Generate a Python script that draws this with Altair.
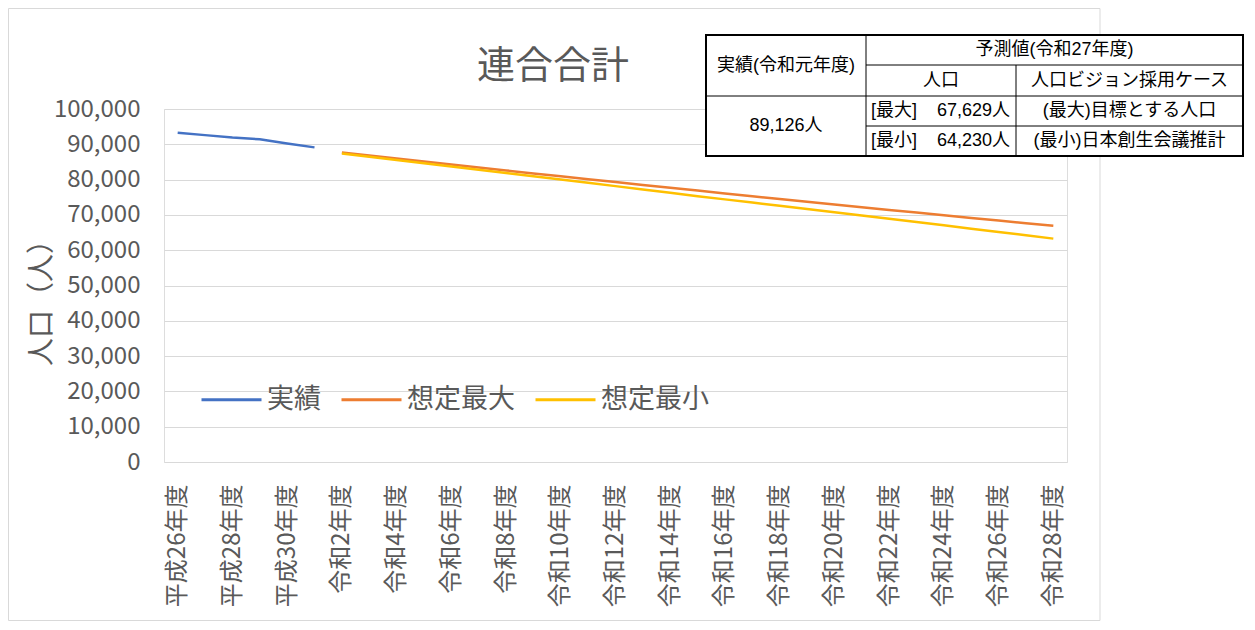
import altair as alt
import pandas as pd

# ---- data ----
categories = [
    "平成26年度", "平成27年度", "平成28年度", "平成29年度", "平成30年度", "令和元年度",
    "令和2年度", "令和3年度", "令和4年度", "令和5年度", "令和6年度", "令和7年度",
    "令和8年度", "令和9年度", "令和10年度", "令和11年度", "令和12年度", "令和13年度",
    "令和14年度", "令和15年度", "令和16年度", "令和17年度", "令和18年度", "令和19年度",
    "令和20年度", "令和21年度", "令和22年度", "令和23年度", "令和24年度", "令和25年度",
    "令和26年度", "令和27年度", "令和28年度",
]
actual_years = categories[0:6]
actual_values = [93300, 92600, 91900, 91400, 90200, 89126]

forecast_years = categories[6:]
max_values = [87700, 86850, 86000, 85150, 84300, 83450, 82600, 81760, 80920,
              80100, 79290, 78480, 77680, 76880, 76080, 75280, 74490, 73700,
              72940, 72180, 71420, 70660, 69900, 69140, 68390, 67629, 66950]
min_values = [87400, 86480, 85560, 84640, 83720, 82800, 81880, 80960, 80040,
              79100, 78150, 77200, 76250, 75300, 74400, 73500, 72600, 71700,
              70770, 69840, 68900, 67970, 67040, 66100, 65170, 64230, 63280]

series_names = ["実績", "想定最大", "想定最小"]
series_colors = ["#4472C4", "#ED7D31", "#FFC000"]
y_ticks = [0, 10000, 20000, 30000, 40000, 50000, 60000, 70000, 80000, 90000, 100000]
x_tick_labels = categories[::2]

rows = []
for c, v in zip(actual_years, actual_values):
    rows.append({"category": c, "series": "実績", "value": v})
for c, v in zip(forecast_years, max_values):
    rows.append({"category": c, "series": "想定最大", "value": v})
for c, v in zip(forecast_years, min_values):
    rows.append({"category": c, "series": "想定最小", "value": v})
df = pd.DataFrame(rows)

FONT = "Noto Sans CJK JP"
TFONT = "Liberation Sans, Noto Sans CJK JP"
GRAY = "#595959"
W, H = 903, 353

lines = alt.Chart(df).mark_line(strokeWidth=2.5).encode(
    x=alt.X("category:N", sort=categories,
            scale=alt.Scale(domain=categories, type="point", padding=0.5),
            axis=alt.Axis(values=x_tick_labels, title=None, labelAngle=-90,
                          labelAlign="right", labelBaseline="middle",
                          labelPadding=22, labelFontSize=24, labelColor=GRAY,
                          labelFont=FONT, domain=False, ticks=False, grid=False)),
    y=alt.Y("value:Q", scale=alt.Scale(domain=[0, 100000], nice=False),
            axis=alt.Axis(values=y_ticks, format=",.0f", labelFontSize=24,
                          labelColor=GRAY, labelFont=FONT, labelPadding=24,
                          domain=False, ticks=False, grid=True,
                          gridColor="#D9D9D9", gridWidth=1,
                          title="人口（人）", titleFont=FONT, titleFontSize=28,
                          titleFontWeight="normal", titleColor=GRAY,
                          titleAngle=-90, titleX=-122, titleY=H / 2 + 10,
                          titleAlign="center", titleBaseline="middle")),
    color=alt.Color("series:N",
                    scale=alt.Scale(domain=series_names, range=series_colors),
                    legend=alt.Legend(title=None, orient="none", legendX=36,
                                      legendY=259, direction="horizontal",
                                      symbolType="stroke", symbolSize=3600,
                                      symbolStrokeWidth=3, labelFontSize=27,
                                      labelColor=GRAY, labelFont=FONT,
                                      labelOffset=4, columnPadding=14,
                                      padding=0)),
)

one = alt.Data(values=[{"k": 0}])


def box(x1, y1, x2, y2, stroke, sw, fill=None):
    kw = dict(stroke=stroke, strokeWidth=sw)
    if fill is not None:
        kw["fill"] = fill
    else:
        kw["fillOpacity"] = 0
    return alt.Chart(one).mark_rect(**kw).encode(
        x=alt.value(x1), x2=alt.value(x2), y=alt.value(y1), y2=alt.value(y2))


def rule(x1, y1, x2, y2, sw=1, color="black"):
    return alt.Chart(one).mark_rule(color=color, strokeWidth=sw).encode(
        x=alt.value(x1), x2=alt.value(x2), y=alt.value(y1), y2=alt.value(y2))


def label(txt, x, y, size=18, align="center", font=TFONT, color="black"):
    return alt.Chart(one).mark_text(text=txt, fontSize=size, align=align,
                                    baseline="middle", font=font,
                                    color=color).encode(
        x=alt.value(x), y=alt.value(y))


frame = box(-155.5, -100.5, 936, 511.5, "#D9D9D9", 1)
title = label("連合合計", 389, -42, size=38, font=FONT, color=GRAY)

# table (decoration)
tx1, tx2, ty1, ty2 = 542, 1079, -74, 47
c1, c2 = 702, 852
r1, r2, r3 = -44, -13, 17
table = [
    box(tx1, ty1, tx2, ty2, "black", 1, fill="white"),
    rule(c1, ty1, c1, ty2),
    rule(c2, r1, c2, ty2),
    rule(c1, r1, tx2, r1),
    rule(tx1, r2, tx2, r2),
    rule(c1, r3, tx2, r3),
    box(tx1, ty1, tx2, ty2, "black", 2),
    label("実績(令和元年度)", (tx1 + c1) / 2, (ty1 + r2) / 2),
    label("予測値(令和27年度)", (c1 + tx2) / 2, (ty1 + r1) / 2),
    label("人口", (c1 + c2) / 2, (r1 + r2) / 2),
    label("人口ビジョン採用ケース", (c2 + tx2) / 2, (r1 + r2) / 2),
    label("89,126人", (tx1 + c1) / 2, (r2 + ty2) / 2),
    label("[最大]", c1 + 5, (r2 + r3) / 2, align="left"),
    label("67,629人", c2 - 6, (r2 + r3) / 2, align="right"),
    label("[最小]", c1 + 5, (r3 + ty2) / 2, align="left"),
    label("64,230人", c2 - 6, (r3 + ty2) / 2, align="right"),
    label("(最大)目標とする人口", (c2 + tx2) / 2, (r2 + r3) / 2),
    label("(最小)日本創生会議推計", (c2 + tx2) / 2, (r3 + ty2) / 2),
]

chart = alt.layer(frame, lines, title, *table).properties(
    width=W, height=H,
    autosize=alt.AutoSizeParams(type="none"),
    padding={"left": 156, "top": 101, "right": 178, "bottom": 159},
).configure_view(stroke=None).configure(background="white")

chart.save("out.html", embed_options={"renderer": "svg", "actions": False})
